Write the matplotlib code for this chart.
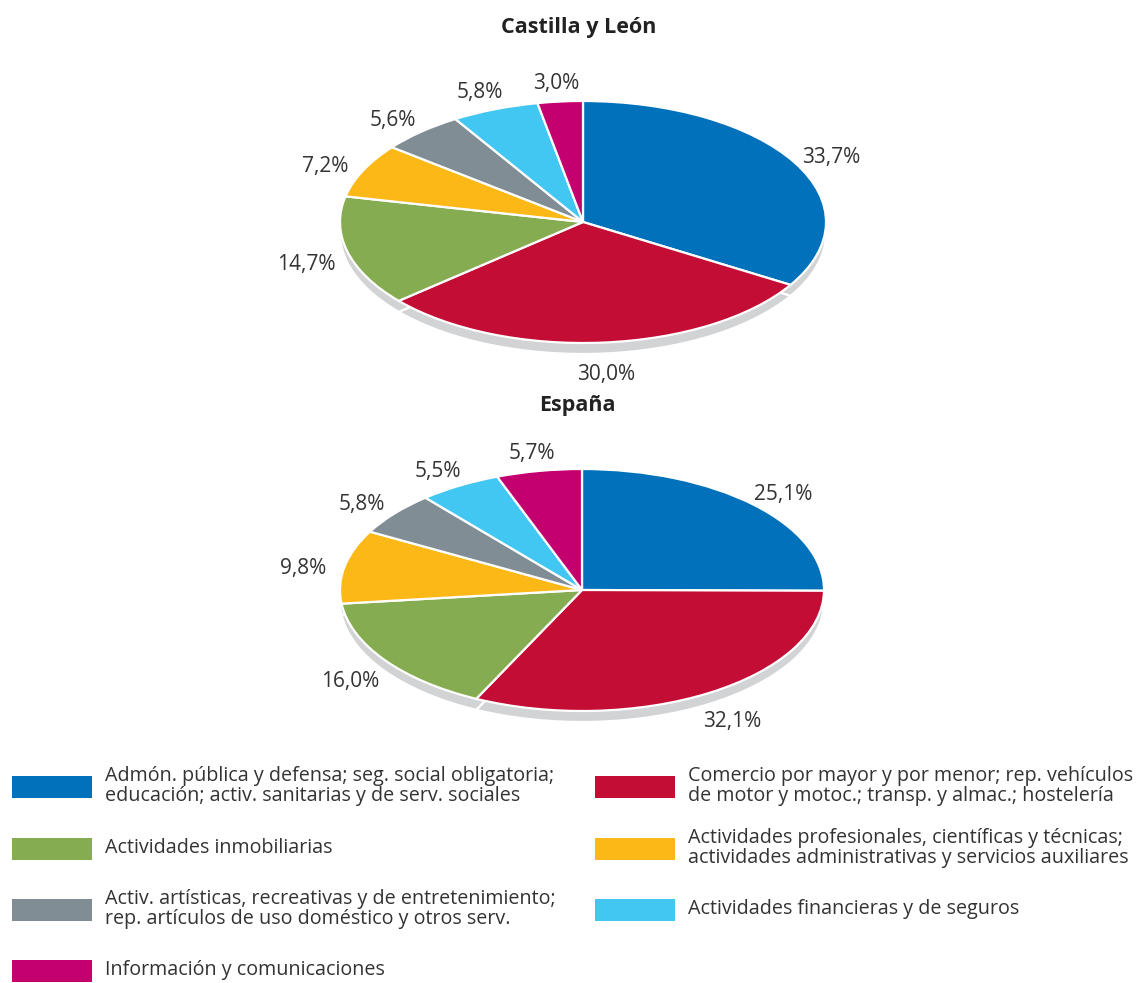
import matplotlib
matplotlib.use("Agg")
import numpy as np
import matplotlib.pyplot as plt
from matplotlib.patches import Rectangle

plt.rcParams['font.family'] = ['Open Sans', 'DejaVu Sans']

categories = [
    "Admón. pública y defensa; seg. social obligatoria;\neducación; activ. sanitarias y de serv. sociales",
    "Comercio por mayor y por menor; rep. vehículos\nde motor y motoc.; transp. y almac.; hostelería",
    "Actividades inmobiliarias",
    "Actividades profesionales, científicas y técnicas;\nactividades administrativas y servicios auxiliares",
    "Activ. artísticas, recreativas y de entretenimiento;\nrep. artículos de uso doméstico y otros serv.",
    "Actividades financieras y de seguros",
    "Información y comunicaciones",
]
colors = ["#0071BA", "#C40D35", "#86AC52", "#FBB817", "#808D95", "#42C6F2", "#C4006F"]

cyl_values = [33.7, 30.0, 14.7, 7.2, 5.6, 5.8, 3.0]
esp_values = [25.1, 32.1, 16.0, 9.8, 5.8, 5.5, 5.7]
cyl_labels = ["33,7%", "30,0%", "14,7%", "7,2%", "5,6%", "5,8%", "3,0%"]
esp_labels = ["25,1%", "32,1%", "16,0%", "9,8%", "5,8%", "5,5%", "5,7%"]
titles = ["Castilla y León", "España"]

W, H = 1137, 983
fig = plt.figure(figsize=(W / 100, H / 100), dpi=100)
fig.patch.set_facecolor("white")

TXT = "#333333"
SHADOW = "#D2D3D5"


def draw_pie(cx, cy, rx, ry, top, bottom, values, labels, title, title_y):
    ax = fig.add_axes([0, 1 - bottom / H, 1, (bottom - top) / H])
    depth = 11 / ry
    ax.pie(values, colors=[SHADOW] * len(values), startangle=90, counterclock=False,
           center=(0, -depth), radius=1,
           wedgeprops=dict(edgecolor="white", linewidth=1.6), frame=False)
    wedges, _ = ax.pie(values, colors=colors, startangle=90, counterclock=False,
                       radius=1,
                       wedgeprops=dict(edgecolor="white", linewidth=1.6), frame=False)
    # outside-end labels: offset outward by a fixed pixel gap
    gx, gy = 42 / rx, 25 / ry
    shift = 7 / ry
    for w, lab in zip(wedges, labels):
        ang = np.deg2rad((w.theta1 + w.theta2) / 2)
        ax.text(np.cos(ang) * (1 + gx), np.sin(ang) * (1 + gy) - shift, lab,
                ha="center", va="center", fontsize=15, color=TXT)
    ax.set_xlim(-cx / rx, (W - cx) / rx)
    ax.set_ylim(-(bottom - cy) / ry, (cy - top) / ry)
    ax.set_aspect("auto")
    ax.axis("off")
    fig.text(cx / W - 0.004, 1 - title_y / H, title, ha="center", va="center",
             fontsize=15.5, fontweight="bold", color="#222222")


draw_pie(583, 222, 243, 121, 45, 375, cyl_values, cyl_labels, titles[0], 28)
draw_pie(582, 590, 242, 121, 420, 740, esp_values, esp_labels, titles[1], 405)

col_order = [[0, 2, 4, 6], [1, 3, 5]]
col_x = [12, 595]
row_y = [787, 849, 910, 971]
for c, idxs in enumerate(col_order):
    for r, i in enumerate(idxs):
        y = row_y[r]
        fig.patches.append(Rectangle((col_x[c] / W, 1 - (y + 11) / H), 80 / W, 22 / H,
                                     transform=fig.transFigure, facecolor=colors[i],
                                     edgecolor="none"))
        fig.text((col_x[c] + 93) / W, 1 - (y - 1) / H, categories[i], ha="left", va="center",
                 fontsize=14.2, color=TXT, linespacing=0.98)

fig.savefig("out.png", dpi=100, facecolor="white")
